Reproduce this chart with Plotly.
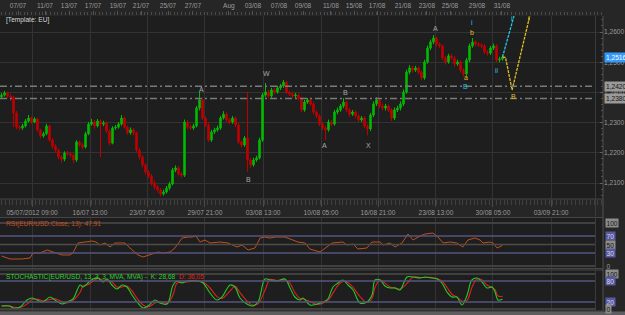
import plotly.graph_objects as go

# ---------------- data ----------------
first_open = 1.2385
closes = [
    1.2391, 1.2398, 1.2388, 1.2385, 1.2332, 1.2285, 1.2282, 1.2289, 1.2305, 1.2315,
    1.2302, 1.2312, 1.2276, 1.2256, 1.2263, 1.2289, 1.2242, 1.2222, 1.2209, 1.2186,
    1.2179, 1.2199, 1.2196, 1.2193, 1.2176, 1.2236, 1.2226, 1.2219, 1.2263, 1.2295,
    1.2302, 1.2289, 1.2305, 1.2295, 1.2299, 1.2272, 1.2232, 1.2282, 1.2285, 1.2295,
    1.2315, 1.2285, 1.2266, 1.2276, 1.2266, 1.2209, 1.2186, 1.2160, 1.2136, 1.2123,
    1.2100, 1.2087, 1.2077, 1.2064, 1.2070, 1.2083, 1.2097, 1.2143, 1.2150, 1.2130,
    1.2126, 1.2302, 1.2285, 1.2282, 1.2289, 1.2348, 1.2375, 1.2315, 1.2292, 1.2242,
    1.2269, 1.2276, 1.2282, 1.2315, 1.2328, 1.2309, 1.2302, 1.2315, 1.2292, 1.2236,
    1.2226, 1.2249, 1.2176, 1.2160, 1.2176, 1.2183, 1.2242, 1.2391, 1.2401, 1.2388,
    1.2408, 1.2401, 1.2415, 1.2421, 1.2434, 1.2401, 1.2395, 1.2388, 1.2391, 1.2381,
    1.2342, 1.2368, 1.2375, 1.2362, 1.2335, 1.2322, 1.2295, 1.2282, 1.2276, 1.2302,
    1.2295, 1.2335, 1.2342, 1.2355, 1.2368, 1.2342, 1.2328, 1.2335, 1.2322, 1.2309,
    1.2315, 1.2289, 1.2279, 1.2325, 1.2362, 1.2375, 1.2355, 1.2348, 1.2355, 1.2342,
    1.2315, 1.2342, 1.2348, 1.2362, 1.2401, 1.2467, 1.2481, 1.2474, 1.2481, 1.2467,
    1.2448, 1.2501, 1.2547, 1.2567, 1.2580, 1.2560, 1.2554, 1.2514, 1.2501, 1.2521,
    1.2514, 1.2494, 1.2501, 1.2474, 1.2461, 1.2507, 1.2554, 1.2567, 1.2560, 1.2557,
    1.2554, 1.2534, 1.2530, 1.2547, 1.2554, 1.2507, 1.2510, 1.2517]
highs = [
    1.2398, 1.2405, 1.2402, 1.2395, 1.2389, 1.2338, 1.2292, 1.2296, 1.2312, 1.2325,
    1.2320, 1.2318, 1.2316, 1.2280, 1.2270, 1.2296, 1.2292, 1.2248, 1.2228, 1.2214,
    1.2192, 1.2205, 1.2206, 1.2202, 1.2198, 1.2242, 1.2240, 1.2232, 1.2270, 1.2302,
    1.2312, 1.2308, 1.2312, 1.2310, 1.2306, 1.2304, 1.2278, 1.2288, 1.2292, 1.2302,
    1.2325, 1.2320, 1.2290, 1.2284, 1.2282, 1.2270, 1.2215, 1.2192, 1.2166, 1.2142,
    1.2130, 1.2108, 1.2094, 1.2083, 1.2078, 1.2090, 1.2104, 1.2150, 1.2158, 1.2156,
    1.2136, 1.2310, 1.2308, 1.2292, 1.2296, 1.2355, 1.2402, 1.2380, 1.2320, 1.2298,
    1.2276, 1.2283, 1.2290, 1.2322, 1.2338, 1.2334, 1.2315, 1.2322, 1.2320, 1.2298,
    1.2242, 1.2256, 1.2401, 1.2182, 1.2184, 1.2190, 1.2250, 1.2398, 1.2431, 1.2408,
    1.2415, 1.2414, 1.2422, 1.2428, 1.2441, 1.2438, 1.2406, 1.2400, 1.2398, 1.2396,
    1.2386, 1.2375, 1.2382, 1.2380, 1.2368, 1.2340, 1.2328, 1.2300, 1.2290, 1.2310,
    1.2308, 1.2342, 1.2350, 1.2362, 1.2381, 1.2372, 1.2348, 1.2342, 1.2340, 1.2328,
    1.2322, 1.2320, 1.2295, 1.2332, 1.2370, 1.2384, 1.2380, 1.2362, 1.2362, 1.2360,
    1.2348, 1.2350, 1.2356, 1.2370, 1.2410, 1.2475, 1.2490, 1.2488, 1.2488, 1.2486,
    1.2472, 1.2508, 1.2555, 1.2575, 1.2590, 1.2585, 1.2566, 1.2558, 1.2520, 1.2528,
    1.2528, 1.2520, 1.2508, 1.2506, 1.2480, 1.2514, 1.2562, 1.2580, 1.2572, 1.2566,
    1.2563, 1.2560, 1.2540, 1.2554, 1.2562, 1.2560, 1.2518, 1.2524]
lows = [
    1.2378, 1.2386, 1.2381, 1.2372, 1.2285, 1.2278, 1.2274, 1.2276, 1.2284, 1.2300,
    1.2296, 1.2298, 1.2270, 1.2248, 1.2250, 1.2258, 1.2236, 1.2215, 1.2200, 1.2178,
    1.2168, 1.2172, 1.2190, 1.2185, 1.2165, 1.2170, 1.2220, 1.2212, 1.2214, 1.2258,
    1.2290, 1.2280, 1.2284, 1.2186, 1.2288, 1.2265, 1.2225, 1.2228, 1.2276, 1.2280,
    1.2290, 1.2280, 1.2260, 1.2260, 1.2258, 1.2202, 1.2178, 1.2152, 1.2128, 1.2115,
    1.2092, 1.2078, 1.2068, 1.2056, 1.2058, 1.2065, 1.2076, 1.2092, 1.2136, 1.2124,
    1.2118, 1.2120, 1.2278, 1.2275, 1.2276, 1.2284, 1.2340, 1.2308, 1.2285, 1.2236,
    1.2236, 1.2262, 1.2270, 1.2276, 1.2310, 1.2302, 1.2295, 1.2296, 1.2285, 1.2230,
    1.2219, 1.2220, 1.2137, 1.2150, 1.2154, 1.2170, 1.2178, 1.2236, 1.2384, 1.2380,
    1.2382, 1.2394, 1.2396, 1.2408, 1.2415, 1.2395, 1.2388, 1.2381, 1.2382, 1.2374,
    1.2335, 1.2336, 1.2362, 1.2355, 1.2328, 1.2315, 1.2288, 1.2275, 1.2242, 1.2270,
    1.2288, 1.2290, 1.2328, 1.2336, 1.2348, 1.2335, 1.2320, 1.2322, 1.2315, 1.2302,
    1.2302, 1.2282, 1.2258, 1.2272, 1.2318, 1.2355, 1.2348, 1.2340, 1.2340, 1.2335,
    1.2305, 1.2308, 1.2335, 1.2340, 1.2355, 1.2395, 1.2460, 1.2466, 1.2468, 1.2460,
    1.2440, 1.2442, 1.2495, 1.2540, 1.2560, 1.2552, 1.2546, 1.2506, 1.2492, 1.2495,
    1.2507, 1.2486, 1.2488, 1.2466, 1.2452, 1.2455, 1.2500, 1.2548, 1.2552, 1.2550,
    1.2547, 1.2527, 1.2522, 1.2524, 1.2540, 1.2500, 1.2500, 1.2505]

rsi_bar = [0, 2.8, 6.8, 9.5, 10.5, 12.8, 15.2, 17.8, 20.2, 22.8,
           23.8, 25.5, 27.8, 30.2, 31.5, 32.8, 34.5, 36.2, 37.8, 41.2,
           42.8, 45.5, 47.2, 49.5, 52.2, 53.8, 56.2, 57.8, 60.2, 62.2,
           63.5, 64.8, 66.2, 67.8, 69.5, 72.8, 75.5, 78.5, 80.2, 82.2,
           84.5, 86.2, 87.8, 89.5, 91.2, 94.5, 96.8, 98.8, 101.2, 102.8,
           106.2, 110.2, 113.8, 115.2, 117.2, 118.8, 121.8, 123.5, 126.2, 127.2,
           129.5, 131.2, 133.5, 135.5, 137.2, 139.5, 141.2, 143.8, 145.5, 147.2,
           149.5, 151.8, 153.8, 155.5, 157.8, 159.5, 160.5, 162.8, 163.8, 165.2, 167]
rsi_val = [23.3, 16.3, 16.3, 18.6, 30.2, 30.2, 37.2, 30.2, 25.6, 25.6,
           30.2, 53.5, 55.8, 58.1, 55.8, 48.8, 53.5, 44.2, 53.5, 53.5,
           41.9, 25.6, 20.9, 25.6, 32.6, 30.2, 32.6, 41.9, 65.1, 67.4,
           67.4, 69.8, 55.8, 60.5, 53.5, 55.8, 53.5, 44.2, 48.8, 37.2,
           41.9, 65.1, 67.4, 65.1, 67.4, 67.4, 60.5, 55.8, 53.5, 39.5,
           32.6, 53.5, 55.8, 48.8, 51.2, 39.5, 41.9, 55.8, 55.8, 48.8,
           53.5, 44.2, 53.5, 74.4, 60.5, 69.8, 74.4, 76.7, 67.4, 53.5,
           55.8, 53.5, 44.2, 60.5, 65.1, 60.5, 53.5, 55.8, 53.5, 41.9, 47.91]

stoch_bar = [0, 2.8, 3.8, 6.2, 8.5, 10.2, 11.8, 13.8, 16.2, 17.8,
             20.2, 21.8, 23.8, 26.2, 27.2, 28.8, 30.5, 32.2, 33.8, 35.2,
             36.8, 38.5, 40.2, 41.8, 43.5, 45.2, 47.2, 48.8, 51.2, 52.8,
             55.2, 57.2, 58.5, 60.2, 61.8, 65.2, 67.2, 69.5, 71.8, 73.5,
             76.2, 77.8, 79.5, 81.8, 83.5, 85.5, 87.8, 89.5, 91.8, 94.5,
             96.2, 97.8, 99.5, 100.5, 102.8, 105.2, 107.2, 108.8, 110.5, 112.2,
             113.8, 115.5, 117.2, 119.5, 121.8, 123.5, 124.5, 126.2, 127.8, 129.5,
             131.2, 132.8, 135.2, 137.2, 139.5, 141.2, 143.5, 145.2, 146.8, 148.5,
             150.2, 151.8, 153.5, 155.2, 156.8, 158.5, 160.2, 161.8, 163.5, 164.5,
             165.5, 167]
stoch_k = [8.6, 8.6, 2.9, 5.7, 25.7, 31.4, 25.7, 20, 34.3, 25.7,
           14.3, 20, 28.6, 68.6, 62.9, 74.3, 85.7, 88.6, 77.1, 85.7,
           68.6, 57.1, 68.6, 62.9, 40, 20, 2.9, 8.6, 25.7, 17.1,
           14.3, 68.6, 80, 74.3, 80, 80, 74.3, 45.7, 25.7, 34.3,
           68.6, 62.9, 31.4, 14.3, 8.6, 20, 85.7, 82.9, 80, 85.7,
           60, 34.3, 25.7, 31.4, 11.4, 14.3, 20, 28.6, 62.9, 74.3,
           82.9, 68.6, 54.3, 17.1, 20, 40, 82.9, 82.9, 65.7, 60,
           60, 54.3, 91.4, 91.4, 88.6, 91.4, 88.6, 85.7, 74.3, 48.6,
           34.3, 34.3, 11.4, 40, 82.9, 88.6, 77.1, 60, 62.9, 48.6,
           25.7, 28.68]
stoch_d = [8.6, 8.6, 6.0, 4.5, 14.0, 27.0, 28.5, 23.5, 27.0, 29.5,
           20.5, 17.0, 24.0, 48.0, 66.0, 69.0, 80.0, 87.0, 83.0, 81.0,
           77.0, 63.0, 63.0, 65.5, 51.5, 30.0, 11.5, 5.7, 17.0, 21.5,
           15.5, 41.0, 74.0, 77.0, 77.0, 80.0, 77.0, 60.0, 35.5, 30.0,
           51.5, 65.5, 47.0, 23.0, 11.5, 14.5, 53.0, 84.0, 81.5, 83.0,
           73.0, 47.0, 30.0, 28.5, 21.5, 13.0, 17.0, 24.5, 45.5, 68.5,
           78.5, 75.5, 61.5, 35.5, 18.5, 30.0, 61.5, 82.9, 74.0, 63.0,
           60.0, 57.0, 73.0, 91.4, 90.0, 90.0, 90.0, 87.0, 80.0, 61.5,
           41.5, 34.3, 23.0, 25.5, 61.5, 85.7, 83.0, 68.5, 61.5, 55.5,
           37.0, 36.05]

# wave projections
cyan_bar = [167, 171.3]
cyan_price = [1.2517, 1.2670]
yellow_bar = [167, 168, 170.2, 176.5]
yellow_price = [1.2517, 1.2516, 1.2408, 1.2670]

levels = [1.2420, 1.2380]
level_labels = ["1,24200", "1,23800"]
last_price = 1.25167

wave_text = ["A", "W", "B", "B", "A", "X", "A", "i", "b", "a", "B", "ii", "B", "i", "i"]
wave_bar = [66.5, 88.2, 82.2, 114.5, 107.8, 122.2, 144.8, 156.8, 156.8, 154.8, 154.8, 165.2, 170.8, 170.2, 175.8]
wave_price = [1.2411, 1.2464, 1.2110, 1.2401, 1.2223, 1.2223, 1.2613, 1.2633, 1.2597, 1.2451, 1.2418, 1.2474, 1.2385, 1.2646, 1.2646]
wave_kind = ["g", "g", "g", "g", "g", "g", "g", "c", "y", "y", "c", "c", "y", "c", "y"]

price_ticks = [1.21, 1.22, 1.23, 1.24, 1.25, 1.26]
grid_bars = [10.2, 29.5, 48.5, 67.8, 87.2, 106.5, 125.5, 144.8, 163.8, 183.2]
bottom_labels = ["05/07/2012 09:00", "16/07 13:00", "23/07 05:00", "29/07 21:00", "03/08 13:00",
                 "10/08 05:00", "16/08 21:00", "23/08 13:00", "30/08 05:00", "03/09 21:00"]
top_bars = [5.5, 14.5, 22.5, 30.5, 38.8, 46.5, 55.5, 63.8, 75.8, 83.8, 92.5, 100.5,
            109.8, 117.5, 125.2, 133.8, 141.8, 149.5, 158.5, 166.8]
top_labels = ["07/07", "11/07", "13/07", "17/07", "19/07", "21/07", "25/07", "27/07", "Aug",
              "03/08", "07/08", "09/08", "11/08", "15/08", "17/08", "21/08", "23/08", "25/08",
              "29/08", "31/08"]
rsi_levels = [100, 70, 50, 30, 0]
stoch_levels = [100, 80, 20, 0]

# ---------------- style ----------------
FONT = "Liberation Sans, Arial, sans-serif"
PAPER = "#262626"
PLOT = "#1e1e1e"
GRID = "#333333"
TXT = "#9a9a9a"
GREEN = "#00bb00"
RED = "#c00000"
CYAN = "#25c3e0"
YELLOW = "#e0c020"
GRAY_LBL = "#a8a8a8"
BLUE_LVL = "#55557f"
GRAY_LVL = "#4c4c4c"
FS = 6.6

XR = [-0.5, 200.5]
PLOT_W = 603.0


def ypap(px):
    return (311.0 - px) / 295.0


def xpap(px):
    return px / PLOT_W


bars = list(range(len(closes)))
opens = [first_open] + closes[:-1]

fig = go.Figure()
fig.add_trace(go.Candlestick(
    x=bars, open=opens, high=highs, low=lows, close=closes,
    increasing=dict(line=dict(color=GREEN, width=1), fillcolor=GREEN),
    decreasing=dict(line=dict(color=RED, width=1), fillcolor=RED),
    whiskerwidth=0, xaxis="x", yaxis="y", hoverinfo="skip", showlegend=False))
fig.add_trace(go.Scatter(x=cyan_bar, y=cyan_price, mode="lines", xaxis="x", yaxis="y",
                         line=dict(color=CYAN, width=1.3, dash="3px,1px"), showlegend=False, hoverinfo="skip"))
fig.add_trace(go.Scatter(x=yellow_bar, y=yellow_price, mode="lines", xaxis="x", yaxis="y",
                         line=dict(color=YELLOW, width=1.3, dash="3px,1px"), showlegend=False, hoverinfo="skip"))
fig.add_trace(go.Scatter(x=[top_bars[0]], y=[1.23], mode="markers", xaxis="x2", yaxis="y",
                         marker=dict(opacity=0), showlegend=False, hoverinfo="skip"))
fig.add_trace(go.Scatter(x=rsi_bar, y=rsi_val, mode="lines", xaxis="x3", yaxis="y2",
                         line=dict(color="#c0501e", width=1), showlegend=False, hoverinfo="skip"))
fig.add_trace(go.Scatter(x=stoch_bar, y=stoch_d, mode="lines", xaxis="x4", yaxis="y3",
                         line=dict(color="#e02020", width=1.1, shape="spline"), showlegend=False, hoverinfo="skip"))
fig.add_trace(go.Scatter(x=stoch_bar, y=stoch_k, mode="lines", xaxis="x4", yaxis="y3",
                         line=dict(color="#22cc22", width=1.1, shape="spline"), showlegend=False, hoverinfo="skip"))

axfont = dict(family=FONT, size=FS, color=TXT)
minor_x = dict(ticks="outside", ticklen=5, tickcolor="#404040", tickmode="linear", tick0=0, dtick=1.25, showgrid=False)

shapes = []
for lv in levels:
    shapes.append(dict(type="line", xref="x", yref="y", x0=XR[0], x1=(595 - 1.5) / 3, y0=lv, y1=lv,
                       line=dict(color="#7a7a7a", width=1.5, dash="7px,3px,2px,3px")))
for lv in rsi_levels:
    col = BLUE_LVL if lv in (70, 30) else GRAY_LVL
    shapes.append(dict(type="line", xref="paper", yref="y2", x0=0, x1=xpap(595), y0=lv, y1=lv,
                       line=dict(color=col, width=1.5)))
for lv in stoch_levels:
    col = BLUE_LVL if lv in (80, 20) else GRAY_LVL
    shapes.append(dict(type="line", xref="paper", yref="y3", x0=0, x1=xpap(595), y0=lv, y1=lv,
                       line=dict(color=col, width=1.5)))
# panel frame lines
for ypx in (199, 217.5, 268.5, 270, 311):
    shapes.append(dict(type="line", xref="paper", yref="paper", x0=0, x1=1, y0=ypap(ypx), y1=ypap(ypx),
                       line=dict(color="#454545", width=1)))
shapes.append(dict(type="line", xref="paper", yref="paper", x0=xpap(595.5), x1=xpap(595.5), y0=0, y1=1,
                   line=dict(color="#3a3a3a", width=1)))
shapes.append(dict(type="line", xref="paper", yref="paper", x0=1, x1=1, y0=0, y1=1,
                   line=dict(color="#505050", width=1)))
shapes.append(dict(type="rect", xref="paper", yref="paper", x0=-0.01, x1=1.05, y0=ypap(316), y1=ypap(311.5),
                   fillcolor="#5e5e5e", line=dict(width=0)))

ann = []
kind_col = {"g": GRAY_LBL, "c": CYAN, "y": YELLOW}
for t, b, p, k in zip(wave_text, wave_bar, wave_price, wave_kind):
    ann.append(dict(x=b, y=p, xref="x", yref="y", text=t, showarrow=False,
                    xanchor="center", yanchor="middle",
                    font=dict(family=FONT, size=7, color=kind_col[k])))
ann.append(dict(x=xpap(4), y=ypap(19.5), xref="paper", yref="paper", xanchor="left", yanchor="middle",
                text="[Template: EU]", showarrow=False, font=dict(family=FONT, size=FS, color="#d8d8d8")))
ann.append(dict(x=xpap(4), y=ypap(224), xref="paper", yref="paper", xanchor="left", yanchor="middle",
                text="RSI(EUR/USD.Close, 13): 47,91", showarrow=False,
                font=dict(family=FONT, size=FS, color="#c8501e")))
ann.append(dict(x=xpap(4), y=ypap(276.5), xref="paper", yref="paper", xanchor="left", yanchor="middle",
                text="STOCHASTIC(EUR/USD, 13, 3, 3, MVA, MVA) -  K: 28,68  <span style='color:#e02020'>D: 36,05</span>",
                showarrow=False, font=dict(family=FONT, size=FS, color="#2ad02a")))
# right side value boxes
ann.append(dict(x=1.0015, y=last_price, xref="paper", yref="y", xanchor="left", yanchor="middle",
                text="1,25167", showarrow=False, bgcolor="#3399ff", borderpad=1,
                font=dict(family=FONT, size=FS, color="#ffffff")))
for lv, lt in zip(levels, level_labels):
    ann.append(dict(x=1.0015, y=lv, xref="paper", yref="y", xanchor="left", yanchor="middle", text=lt,
                    showarrow=False, bgcolor="#9a9a9a", borderpad=1,
                    font=dict(family=FONT, size=FS, color="#141414")))
for lv in rsi_levels:
    if lv in (70, 30):
        bg, fc = "#5a5aa0", "#d8d8f0"
    elif lv == 0:
        bg, fc = "rgba(0,0,0,0)", TXT
    else:
        bg, fc = "#8c8c8c", "#141414"
    ann.append(dict(x=1.004, y=lv, xref="paper", yref="y2", xanchor="left", yanchor="middle", text=str(lv),
                    showarrow=False, bgcolor=bg, borderpad=0.5, font=dict(family=FONT, size=FS, color=fc)))
for lv in stoch_levels:
    if lv in (80, 20):
        bg, fc = "#5a5aa0", "#d8d8f0"
    else:
        bg, fc = "#8c8c8c", "#141414"
    ann.append(dict(x=1.004, y=lv, xref="paper", yref="y3", xanchor="left", yanchor="middle", text=str(lv),
                    showarrow=False, bgcolor=bg, borderpad=0.5, font=dict(family=FONT, size=FS, color=fc)))

fig.update_layout(
    width=625, height=315,
    margin=dict(l=0, r=22, t=16, b=4),
    paper_bgcolor=PAPER, plot_bgcolor=PLOT,
    separators=",.",
    showlegend=False,
    font=dict(family=FONT, size=FS, color=TXT),
    xaxis=dict(domain=[0, 1], anchor="y", range=XR, tickmode="array", tickvals=grid_bars,
               ticktext=bottom_labels, ticks="outside", ticklen=7, tickcolor="#4a4a4a",
               showgrid=True, gridcolor=GRID, gridwidth=1, zeroline=False, showline=False,
               tickfont=axfont, rangeslider=dict(visible=False), minor=minor_x, fixedrange=True),
    xaxis2=dict(overlaying="x", side="top", anchor="y", range=XR, tickmode="array", tickvals=top_bars,
                ticktext=top_labels, ticks="outside", ticklen=4, tickcolor="#555555",
                showgrid=False, zeroline=False, showline=False, tickfont=axfont,
                minor=dict(ticks="outside", ticklen=3, tickcolor="#4a4a4a", tickmode="linear",
                           tick0=0, dtick=1.25, showgrid=False)),
    xaxis3=dict(domain=[0, 1], anchor="y2", range=XR, tickmode="array", tickvals=grid_bars,
                showticklabels=False, ticks="", showgrid=True, gridcolor=GRID, zeroline=False, showline=False),
    xaxis4=dict(domain=[0, 1], anchor="y3", range=XR, tickmode="array", tickvals=grid_bars,
                showticklabels=False, ticks="", showgrid=True, gridcolor=GRID, zeroline=False, showline=False),
    yaxis=dict(domain=[ypap(199), 1], anchor="x", side="right", range=[1.20470, 1.26530],
               tickmode="array", tickvals=price_ticks, tickformat=".4f", ticks="inside", ticklen=3,
               tickcolor="#606060", showgrid=True, gridcolor=GRID, zeroline=False, showline=False,
               tickfont=axfont,
               minor=dict(ticks="inside", ticklen=2, tickcolor="#505050", tickmode="linear",
                          tick0=1.2, dtick=0.002, showgrid=False)),
    yaxis2=dict(domain=[ypap(268), ypap(218)], anchor="x3", side="right", range=[-4.65, 111.63],
                showticklabels=False, ticks="", showgrid=False, zeroline=False, showline=False),
    yaxis3=dict(domain=[0, ypap(270)], anchor="x4", side="right", range=[-5.71, 111.43],
                showticklabels=False, ticks="", showgrid=False, zeroline=False, showline=False),
    shapes=shapes,
    annotations=ann,
)

fig.write_html("out.html", config={"displayModeBar": False})
